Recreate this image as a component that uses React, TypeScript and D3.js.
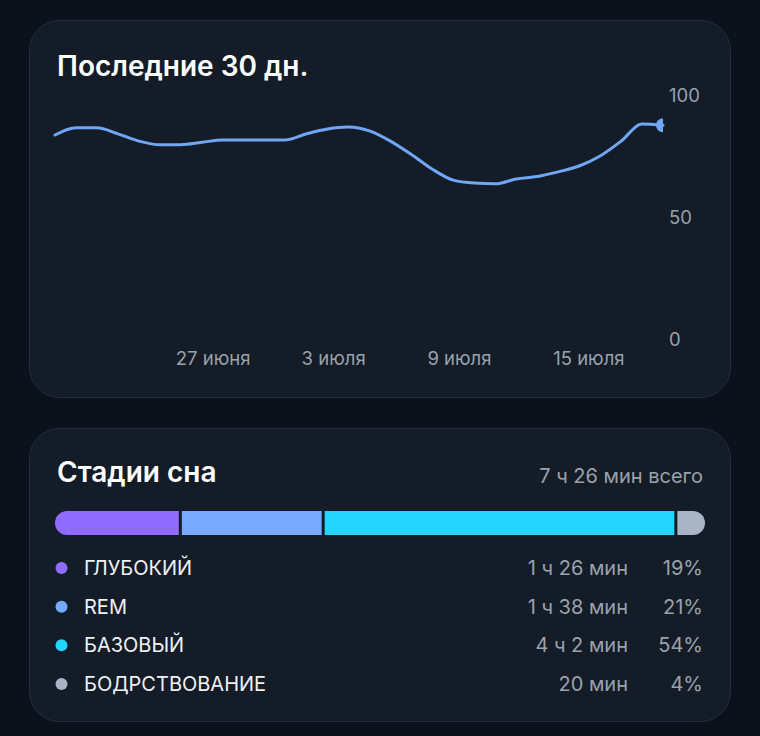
import React from 'react';
import * as d3 from 'd3';

// ---- Data ----
const startDate = '2024-06-21';
const endDate = '2024-07-20';
const scoreValues = [84, 87, 87, 84.5, 81.5, 80, 80, 81, 82, 82, 82, 82, 84.5, 86.5, 87.3, 85.7, 81.5, 76, 70, 65.5, 64.3, 64, 66, 67, 68.9, 71.3, 75.4, 81.5, 88.5, 88];
const xTickDates = ['2024-06-27', '2024-07-03', '2024-07-09', '2024-07-15'];
const xTickLabels = ['27 июня', '3 июля', '9 июля', '15 июля'];
const yTicks = [0, 50, 100];

const stageNames = ['ГЛУБОКИЙ', 'REM', 'БАЗОВЫЙ', 'БОДРСТВОВАНИЕ'];
const stageMinutes = [86, 98, 242, 20];
const stageDurations = ['1 ч 26 мин', '1 ч 38 мин', '4 ч 2 мин', '20 мин'];
const stagePercents = ['19%', '21%', '54%', '4%'];
const stageColors = ['#8f6bff', '#77aaff', '#22d4fe', '#a7b5c6'];
const totalLabel = '7 ч 26 мин всего';
const title1 = 'Последние 30 дн.';
const title2 = 'Стадии сна';

const W = 760;
const H = 736;
const FONT = 'Inter, "Noto Sans", sans-serif';

export default function App() {
  const parse = d3.timeParse('%Y-%m-%d');
  const dates = d3.timeDay.range(parse(startDate)!, d3.timeDay.offset(parse(endDate)!, 1));
  const data = dates.map((d, i) => ({ d, v: scoreValues[i] }));

  const x = d3.scaleTime().domain([parse(startDate)!, parse(endDate)!]).range([55, 663]);
  const y = d3.scaleLinear().domain([0, 100]).range([340, 96]);

  const line = d3
    .line<{ d: Date; v: number }>()
    .x((p) => x(p.d))
    .y((p) => y(p.v))
    .curve(d3.curveMonotoneX);

  const last = data[data.length - 1];
  const endX = x(last.d);

  // stacked bar
  const total = d3.sum(stageMinutes);
  const bx = d3.scaleLinear().domain([0, total]).range([55, 705]);
  const cum = stageMinutes.map((_, i) => d3.sum(stageMinutes.slice(0, i)));
  const barY = 511;
  const barH = 24;
  const gap = 3;

  const rowY = d3.scalePoint<number>().domain(d3.range(stageNames.length)).range([568, 684]);

  return (
    <svg
      width={W}
      height={H}
      style={{ position: 'absolute', left: 0, top: 0, display: 'block' }}
      fontFamily={FONT}
    >
      <defs>
        <clipPath id="endclip">
          <rect x={0} y={0} width={endX} height={H} />
        </clipPath>
        <clipPath id="barclip">
          <rect x={55} y={barY} width={650} height={barH} rx={12} ry={12} />
        </clipPath>
      </defs>
      <rect x={0} y={0} width={W} height={H} fill="#0c121b" />

      {/* Card 1 */}
      <rect x={29.5} y={20.5} width={701} height={377} rx={30} fill="#141c27" stroke="#252e3b" strokeWidth={1} />
      <text x={57} y={76} fill="#ffffff" fontSize={28} fontWeight={600}>
        {title1}
      </text>
      {yTicks.map((t) => (
        <text key={t} x={669} y={y(t)} dy="0.35em" fill="#9aa2ad" fontSize={18.5}>
          {t}
        </text>
      ))}
      {xTickDates.map((t, i) => (
        <text key={t} x={x(parse(t)!) - 5} y={365} fill="#9aa2ad" fontSize={18.5}>
          {xTickLabels[i]}
        </text>
      ))}
      <path d={line(data) || ''} fill="none" stroke="#70a6f6" strokeWidth={3} strokeLinecap="round" />
      <circle cx={endX} cy={y(last.v)} r={7} fill="#70a6f6" clipPath="url(#endclip)" />

      {/* Card 2 */}
      <rect x={29.5} y={428.5} width={701} height={293} rx={30} fill="#141c27" stroke="#252e3b" strokeWidth={1} />
      <text x={57} y={482} fill="#ffffff" fontSize={28} fontWeight={600}>
        {title2}
      </text>
      <text x={703} y={483} textAnchor="end" fill="#9aa2ad" fontSize={20}>
        {totalLabel}
      </text>
      <g clipPath="url(#barclip)">
        {stageMinutes.map((m, i) => {
          const x0 = bx(cum[i]) + (i > 0 ? gap / 2 : 0);
          const x1 = bx(cum[i] + m) - (i < stageMinutes.length - 1 ? gap / 2 : 0);
          return <rect key={i} x={x0} y={barY} width={x1 - x0} height={barH} fill={stageColors[i]} />;
        })}
      </g>
      {stageNames.map((n, i) => (
        <g key={n}>
          <circle cx={61.5} cy={rowY(i)} r={6} fill={stageColors[i]} />
          <text x={84} y={rowY(i)} dy="0.35em" fill="#eef1f5" fontSize={20}>
            {n}
          </text>
          <text x={628} y={rowY(i)} dy="0.35em" textAnchor="end" fill="#9aa2ad" fontSize={20}>
            {stageDurations[i]}
          </text>
          <text x={703} y={rowY(i)} dy="0.35em" textAnchor="end" fill="#9aa2ad" fontSize={20}>
            {stagePercents[i]}
          </text>
        </g>
      ))}
    </svg>
  );
}
